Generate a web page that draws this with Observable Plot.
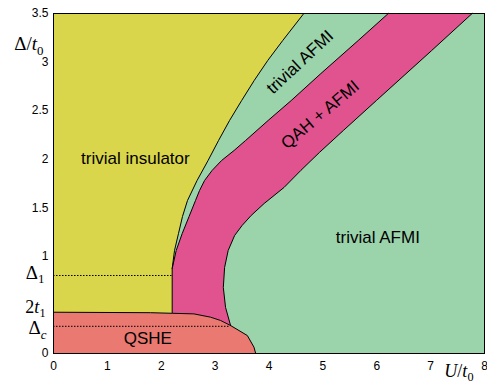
<!DOCTYPE html>
<html><head><meta charset="utf-8">
<script src="https://cdn.jsdelivr.net/npm/d3@7"></script>
<script src="https://cdn.jsdelivr.net/npm/@observablehq/plot@0.6"></script>
<style>body{margin:0;background:#fff;}</style>
</head><body><div id="chart"></div>
<script>
// ---- data ----
const xTicks = [0, 1, 2, 3, 4, 5, 6, 7, 8];
const yTicks = [0, 1, 1.5, 2, 2.5, 3, 3.5];
const delta1Level = 0.803;
const twoT1Level = 0.425;
const deltaCLevel = 0.28;

// boundary between trivial insulator and trivial AFMI (U, Δ)
const insulatorEdge = [[4.646,3.5],[4.255,3.222],[3.976,3.016],[3.725,2.810],[3.492,2.604],[3.268,2.399],[3.064,2.193],[2.869,1.987],[2.665,1.781],[2.487,1.575],[2.394,1.410],[2.320,1.235],[2.246,1.060],[2.203,0.875],[2.203,0.42]];
// upper-left edge of QAH + AFMI band
const qahUpperEdge = [[6.214,3.5],[5.656,3.222],[4.963,2.882],[4.412,2.604],[3.984,2.399],[3.566,2.193],[3.352,2.090],[3.120,1.987],[2.943,1.884],[2.804,1.781],[2.711,1.678],[2.636,1.575],[2.516,1.410],[2.389,1.235],[2.277,1.060],[2.203,0.875]];
// lower-right edge of QAH + AFMI band
const qahLowerEdge = [[7.771,3.5],[7.020,3.119],[5.995,2.605],[5.381,2.296],[4.935,2.069],[4.590,1.884],[4.279,1.709],[3.910,1.544],[3.669,1.421],[3.501,1.318],[3.362,1.215],[3.242,1.060],[3.176,0.885],[3.152,0.679],[3.194,0.474],[3.287,0.288]];
// QSHE edge
const qsheEdge = [[0,0.425],[1.80,0.420],[2.203,0.414],[2.605,0.408],[2.915,0.374],[3.101,0.340],[3.287,0.288],[3.598,0.185],[3.721,0.065],[3.753,0]];

const regionLabels = [
  {text: "trivial insulator", U: 1.52, D: 2.01},
  {text: "trivial AFMI", U: 6.02, D: 1.19},
  {text: "QSHE", U: 1.75, D: 0.154}
];
const rotatedLabel1 = [{text: "trivial AFMI", U: 4.575, D: 3.0}];
const rotatedLabel2 = [{text: "QAH + AFMI", U: 4.95, D: 2.458}];

const colors = {yellow: "#dad64b", green: "#9bd3ab", pink: "#e0538f", red: "#e97971"};

// ---- polygons built from the edges ----
const yellowPoly = [[0, twoT1Level], [0, 3.5], ...insulatorEdge];
const pinkPoly = [...qahUpperEdge, ...qsheEdge.filter(p => p[0] >= 2.203 && p[0] < 3.287), ...qahLowerEdge.slice().reverse()];
const redPoly = [[0, 0], ...qsheEdge];

const sans = "Liberation Sans, Arial, Helvetica, sans-serif";
const serif = "Liberation Serif, Times New Roman, serif";
const P = {x: d => d[0], y: d => d[1]};

const chart = Plot.plot({
  width: 487, height: 385,
  marginLeft: 53, marginRight: 3, marginTop: 13, marginBottom: 32,
  x: {domain: [0, 8]},
  y: {domain: [0, 3.5]},
  style: {fontFamily: sans, fontSize: "12px", color: "black", background: "white"},
  marks: [
    Plot.frame({fill: colors.green, stroke: "none"}),
    Plot.line(yellowPoly, {...P, fill: colors.yellow, stroke: "none", clip: true}),
    Plot.line(pinkPoly, {...P, fill: colors.pink, stroke: "none", clip: true}),
    Plot.line(redPoly, {...P, fill: colors.red, stroke: "none", clip: true}),
    Plot.line(insulatorEdge, {...P, stroke: "black", strokeWidth: 1}),
    Plot.line(qahUpperEdge, {...P, stroke: "black", strokeWidth: 1}),
    Plot.line(qahLowerEdge, {...P, stroke: "black", strokeWidth: 1}),
    Plot.line(qsheEdge, {...P, stroke: "black", strokeWidth: 1}),
    Plot.ruleY([delta1Level], {x1: 0, x2: 2.203, stroke: "black", strokeWidth: 1, strokeDasharray: "1.5,1.5"}),
    Plot.ruleY([deltaCLevel], {x1: 0, x2: 3.287, stroke: "black", strokeWidth: 1, strokeDasharray: "1.5,1.5"}),
    Plot.frame({stroke: "black", strokeWidth: 1}),
    Plot.axisX({ticks: xTicks, tickSize: 0, tickPadding: 8, label: null, fontSize: 12, tickFormat: d => String(d)}),
    Plot.axisY({ticks: yTicks, tickSize: 0, tickPadding: 5, label: null, fontSize: 12, tickFormat: d => String(d)}),
    Plot.text(regionLabels, {x: "U", y: "D", text: "text", fontSize: 17, fill: "black"}),
    Plot.text(rotatedLabel1, {x: "U", y: "D", text: "text", fontSize: 17, fill: "black", rotate: -43}),
    Plot.text(rotatedLabel2, {x: "U", y: "D", text: "text", fontSize: 17, fill: "black", rotate: -40}),
    // math labels on the y axis
    Plot.text([delta1Level], {x: 0, y: d => d, text: () => "Δ_1", textAnchor: "end", dx: -9, dy: -3, fontSize: 19, fontFamily: serif}),
    Plot.text([twoT1Level], {x: 0, y: d => d, text: () => "2*t*_1", textAnchor: "end", dx: -8, dy: -5, fontSize: 18, fontFamily: serif}),
    Plot.text([deltaCLevel], {x: 0, y: d => d, text: () => "Δ_*c*", textAnchor: "end", dx: -7, dy: 2, fontSize: 19, fontFamily: serif}),
    Plot.text(["Δ/*t*_0"], {frameAnchor: "top-left", text: d => d, textAnchor: "end", dx: -10, dy: 23, fontSize: 19, fontFamily: serif}),
    Plot.text(["*U*/*t*_0"], {frameAnchor: "bottom-right", text: d => d, textAnchor: "end", dx: -11, dy: 23.5, fontSize: 18, fontFamily: serif})
  ]
});

// turn the little markup (*italic*, _subscript) into tspans
function mathify(svg) {
  svg.querySelectorAll("text").forEach(t => {
    const s = t.textContent;
    if (!/[_*]/.test(s)) return;
    let fs = 19;
    let el = t;
    while (el && el !== svg) {
      const a = el.getAttribute && el.getAttribute("font-size");
      if (a) { fs = parseFloat(a); break; }
      el = el.parentNode;
    }
    const segs = [];
    let italic = false, sub = false, buf = "";
    const flush = () => { if (buf) segs.push({text: buf, italic, sub}); buf = ""; };
    for (let i = 0; i < s.length; i++) {
      const c = s[i];
      if (c === "*") { flush(); italic = !italic; if (!italic && sub) sub = false; continue; }
      if (c === "_") { flush(); sub = true; continue; }
      buf += c;
      if (sub && !italic) { flush(); sub = false; }
    }
    flush();
    t.textContent = "";
    let shifted = false;
    segs.forEach(sg => {
      const ts = document.createElementNS("http://www.w3.org/2000/svg", "tspan");
      ts.textContent = sg.text;
      if (sg.italic) ts.setAttribute("font-style", "italic");
      if (sg.sub && !shifted) { ts.setAttribute("dy", (0.24 * fs).toFixed(2)); shifted = true; }
      else if (!sg.sub && shifted) { ts.setAttribute("dy", (-0.24 * fs).toFixed(2)); shifted = false; }
      if (sg.sub) ts.setAttribute("font-size", (0.68 * fs).toFixed(2));
      t.appendChild(ts);
    });
  });
}
mathify(chart);
document.getElementById("chart").appendChild(chart);
</script>
</body></html>
